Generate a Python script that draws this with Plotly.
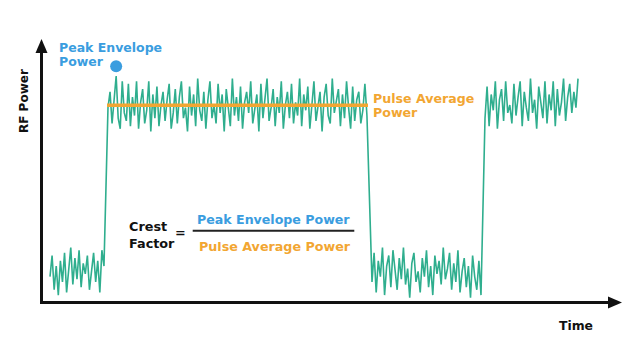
import numpy as np
import plotly.graph_objects as go

# ---- signal samples (relative RF power, 0..100) ----
low1 = [10, 18, 5, 14, 3, 16, 8, 19, 4, 12, 21, 7, 17, 9, 20, 6, 15, 11, 18, 5,
        13, 19, 8, 16, 4, 20, 14]
high1 = [74, 80, 68, 77, 86, 70, 66, 84, 72, 69, 83, 67, 78, 71, 84, 66, 76, 81, 68, 73,
         84, 65, 79, 70, 82, 67, 75, 80, 69, 77,
         83, 66, 72, 81, 68, 78, 84, 70, 74, 65, 82, 71, 79, 67, 85, 73, 69, 80, 66, 77,
         84, 70, 75, 68, 83, 72, 79, 65, 81, 74, 67, 85, 71, 78, 69, 82, 66, 76, 80, 72,
         84, 68, 73, 79, 65, 83, 70, 77, 85, 69, 74, 81, 67, 78, 72, 84, 66, 75, 80, 70,
         83, 68, 76, 71, 85, 67, 79, 73, 82, 66, 77, 84, 69, 74, 80, 65, 78, 83, 71, 68,
         85, 72, 76, 81, 67, 79, 70, 84, 74, 66, 82, 69, 77, 80, 68, 73, 83, 71]
low2 = [8, 19, 4, 16, 10, 21, 3, 14, 18, 6, 20, 11, 5, 17, 9, 21, 7, 13, 2, 15,
        19, 8, 12, 4, 17, 10, 20, 6, 14, 3, 18, 11, 16, 7, 21, 9, 13, 19, 5, 15,
        8, 20, 4, 12, 17, 6, 14, 2, 18, 10, 5, 16, 3]
high2 = [70, 82, 67, 79, 73, 84, 66, 77, 81, 69, 84, 72, 75, 68, 83, 71, 78, 84, 67, 80,
         74, 69, 85, 72, 77, 66, 82, 75, 70, 84, 68, 79, 73, 84, 67, 81, 71, 76, 85, 69,
         78, 83, 72, 80, 74, 85]

# segment time spans (relative time units)
seg_spans = [(1.55, 10.84), (11.53, 56.1), (56.97, 75.73), (76.42, 92.43)]
segments = [low1, high1, low2, high2]

t_all, v_all = [], []
for (a, b), vals in zip(seg_spans, segments):
    t_all.extend(np.linspace(a, b, len(vals)))
    v_all.extend(vals)

t_high1 = np.linspace(seg_spans[1][0], seg_spans[1][1], len(high1))
avg_high = float(np.mean(high1))
peak_i = int(np.argmax(high1))

# ---- layout helpers: pixel -> data (plot area fills the figure) ----
W, H = 638, 359
X0PX, XSCALE = 41.0, 5.81     # px of t=0, px per unit
Y0PX, YSCALE = 303.0, 2.64    # px of v=0, px per unit
def X(px): return (px - X0PX) / XSCALE
def Y(py): return (Y0PX - py) / YSCALE

TEAL = "#2fae8e"
BLUE = "#3a9ddf"
ORANGE = "#f2a632"
BLACK = "#111111"
FONT = "DejaVu Sans"

fig = go.Figure()
fig.add_trace(go.Scatter(x=t_all, y=v_all, mode="lines",
                         line=dict(color=TEAL, width=1.6), hoverinfo="skip"))
fig.add_trace(go.Scatter(x=[X(107), X(368)], y=[avg_high, avg_high], mode="lines",
                         line=dict(color=ORANGE, width=3.5), hoverinfo="skip"))
fig.add_trace(go.Scatter(x=[t_high1[peak_i]], y=[high1[peak_i] + 3.7], mode="markers",
                         marker=dict(color=BLUE, size=12), hoverinfo="skip"))

shapes = [
    # y axis
    dict(type="line", x0=X(41.5), x1=X(41.5), y0=Y(304), y1=Y(50),
         line=dict(color=BLACK, width=3)),
    dict(type="path", path=f"M {X(35.5)} {Y(53)} L {X(47.5)} {Y(53)} L {X(41.5)} {Y(39)} Z",
         fillcolor=BLACK, line=dict(width=0)),
    # x axis
    dict(type="line", x0=X(40), x1=X(610), y0=Y(302.5), y1=Y(302.5),
         line=dict(color=BLACK, width=3)),
    dict(type="path", path=f"M {X(608)} {Y(296.5)} L {X(608)} {Y(308.5)} L {X(622)} {Y(302.5)} Z",
         fillcolor=BLACK, line=dict(width=0)),
    # fraction bar
    dict(type="line", x0=X(192.7), x1=X(354.3), y0=Y(230.7), y1=Y(230.7),
         line=dict(color="#222222", width=2)),
]

def txt(s, px, py, color, size, anchor="left", angle=0):
    return dict(text=s, x=X(px), y=Y(py), xref="x", yref="y", showarrow=False,
                xanchor=anchor, yanchor="middle", textangle=angle, borderpad=0,
                font=dict(family=FONT, size=size, color=color, weight="bold"))

annotations = [
    txt("Peak Envelope", 58, 47, BLUE, 12.5),
    txt("Power", 58, 61, BLUE, 12.5),
    txt("Pulse Average", 371.5, 98.5, ORANGE, 12.6),
    txt("Power", 371.5, 112.8, ORANGE, 12.6),
    txt("RF Power", 24, 101, BLACK, 12, anchor="center", angle=-90),
    txt("Crest", 128.3, 226.7, BLACK, 12.8),
    txt("Factor", 128.3, 243.3, BLACK, 12.8),
    txt("=", 174, 232, BLACK, 12.8),
    txt("Peak Envelope Power", 196.3, 219.3, BLUE, 12.6),
    txt("Pulse Average Power", 197.7, 246, ORANGE, 12.7),
    txt("Time", 575.5, 325, BLACK, 12.4, anchor="center"),
]

fig.update_layout(
    width=W, height=H, margin=dict(l=0, r=0, t=0, b=0),
    paper_bgcolor="white", plot_bgcolor="white", showlegend=False,
    xaxis=dict(range=[X(0), X(W)], visible=False, fixedrange=True),
    yaxis=dict(range=[Y(H), Y(0)], visible=False, fixedrange=True),
    shapes=shapes, annotations=annotations,
)

fig.write_html("out.html", config={"displayModeBar": False},
               post_script="document.body.style.margin='0';document.body.style.overflow='hidden';")
